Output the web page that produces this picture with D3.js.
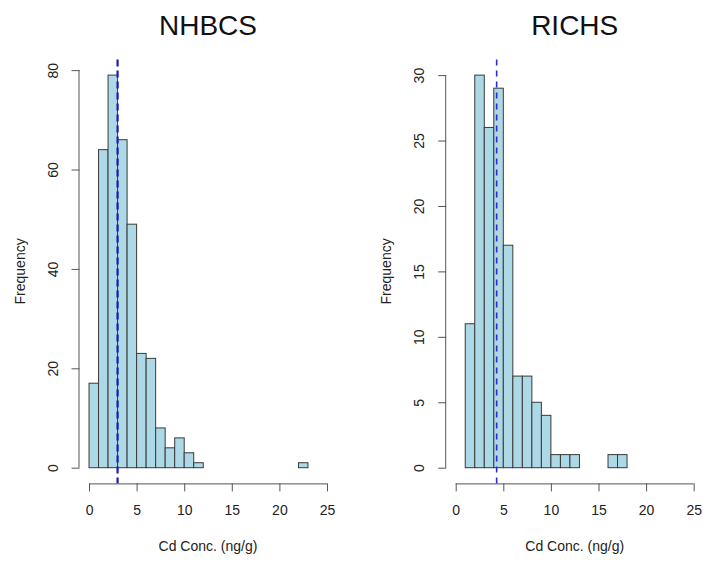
<!DOCTYPE html>
<html>
<head>
<meta charset="utf-8">
<script src="https://cdn.jsdelivr.net/npm/d3@7"></script>
<style>
  body { margin: 0; background: #fff; }
  svg { font-family: "Liberation Sans", Arial, sans-serif; }
</style>
</head>
<body>
<div id="chart"></div>
<script>
// histogram counts, bins of width 1
var nhbcsStart = 0,
  nhbcsCounts = [17, 64, 79, 66, 49, 23, 22, 8, 4, 6, 3, 1, 0, 0, 0, 0, 0, 0, 0, 0, 0, 0, 1],
  nhbcsMean = 3.0,
  nhbcsYTicks = [0, 20, 40, 60, 80];

var richsStart = 1,
  richsCounts = [11, 30, 26, 29, 17, 7, 7, 5, 4, 1, 1, 1, 0, 0, 0, 1, 1],
  richsMean = 4.3,
  richsYTicks = [0, 5, 10, 15, 20, 25, 30];

var xTicks = [0, 5, 10, 15, 20, 25];

var width = 704, height = 563;

var svg = d3.select("#chart")
  .append("svg")
  .attr("width", width)
  .attr("height", height);

/**
 * Draw one R-style histogram panel
 */
function drawPanel(opt) {
  var top = 59.4, bottom = 483.4;
  var yTop = d3.max(opt.counts);
  // R extends the limits by 4%
  var ylo = -0.04 * yTop, yhi = yTop * 1.04;

  var xScale = d3.scaleLinear().domain([-1, 26]).range([opt.left, opt.left + 257]);
  var yScale = d3.scaleLinear().domain([ylo, yhi]).range([bottom, top]);

  var bins = opt.counts.map(function(c, i) {
    return {x0: opt.start + i, x1: opt.start + i + 1, n: c};
  });

  var g = svg.append("g");

  // bars
  g.selectAll("rect")
    .data(bins)
    .enter().append("rect")
    .attr("x", function(d) { return xScale(d.x0); })
    .attr("y", function(d) { return yScale(d.n); })
    .attr("width", function(d) { return xScale(d.x1) - xScale(d.x0); })
    .attr("height", function(d) { return yScale(0) - yScale(d.n); })
    .attr("fill", "#add8e6")
    .attr("stroke", "#3a3a3a")
    .attr("stroke-width", 1);

  // mean line
  g.append("line")
    .attr("x1", xScale(opt.mean))
    .attr("x2", xScale(opt.mean))
    .attr("y1", top)
    .attr("y2", bottom)
    .attr("stroke", opt.lineColor)
    .attr("stroke-width", opt.lineWidth)
    .attr("stroke-dasharray", opt.dash);

  // x axis
  var xa = g.append("g")
    .attr("transform", "translate(0," + bottom + ")")
    .call(d3.axisBottom(xScale).tickValues(xTicks).tickSize(8).tickPadding(14).tickSizeOuter(0));
  xa.select(".domain").attr("d", "M" + xScale(0) + ",0.5H" + xScale(25));
  xa.selectAll("line").attr("stroke", "#555");
  xa.select(".domain").attr("stroke", "#555");
  xa.selectAll("text").style("font-size", "14px").attr("fill", "#222");

  // y axis
  var ya = g.append("g")
    .attr("transform", "translate(" + xScale(-1) + ",0)")
    .call(d3.axisLeft(yScale).tickValues(opt.yTicks).tickSize(8).tickSizeOuter(0));
  ya.select(".domain").attr("d", "M-0.5," + yScale(0) + "V" + yScale(d3.max(opt.yTicks)));
  ya.selectAll("line").attr("stroke", "#555");
  ya.select(".domain").attr("stroke", "#555");
  ya.selectAll("text")
    .style("font-size", "14px")
    .attr("fill", "#222")
    .attr("x", 0).attr("dy", null)
    .attr("text-anchor", "middle")
    .attr("transform", "translate(-27,0) rotate(-90)")
    .attr("dominant-baseline", "central");

  // titles
  g.append("text")
    .attr("x", (xScale(-1) + xScale(26)) / 2)
    .attr("y", 35)
    .attr("text-anchor", "middle")
    .style("font-size", "28px")
    .attr("fill", "#111")
    .text(opt.title);

  g.append("text")
    .attr("x", (xScale(-1) + xScale(26)) / 2)
    .attr("y", 551)
    .attr("text-anchor", "middle")
    .style("font-size", "14px")
    .attr("fill", "#222")
    .text("Cd Conc. (ng/g)");

  g.append("text")
    .attr("transform", "translate(" + (xScale(-1) - 60) + "," + ((top + bottom) / 2) + ") rotate(-90)")
    .attr("text-anchor", "middle")
    .attr("dominant-baseline", "central")
    .style("font-size", "14px")
    .attr("fill", "#222")
    .text("Frequency");
}

drawPanel({
  left: 79.5, title: "NHBCS", counts: nhbcsCounts, start: nhbcsStart,
  mean: nhbcsMean, yTicks: nhbcsYTicks,
  lineColor: "#1a1ab8", lineWidth: 2.2, dash: "7,4"
});

drawPanel({
  left: 446.2, title: "RICHS", counts: richsCounts, start: richsStart,
  mean: richsMean, yTicks: richsYTicks,
  lineColor: "#2a2ad0", lineWidth: 1.6, dash: "6,5"
});
</script>
</body>
</html>
